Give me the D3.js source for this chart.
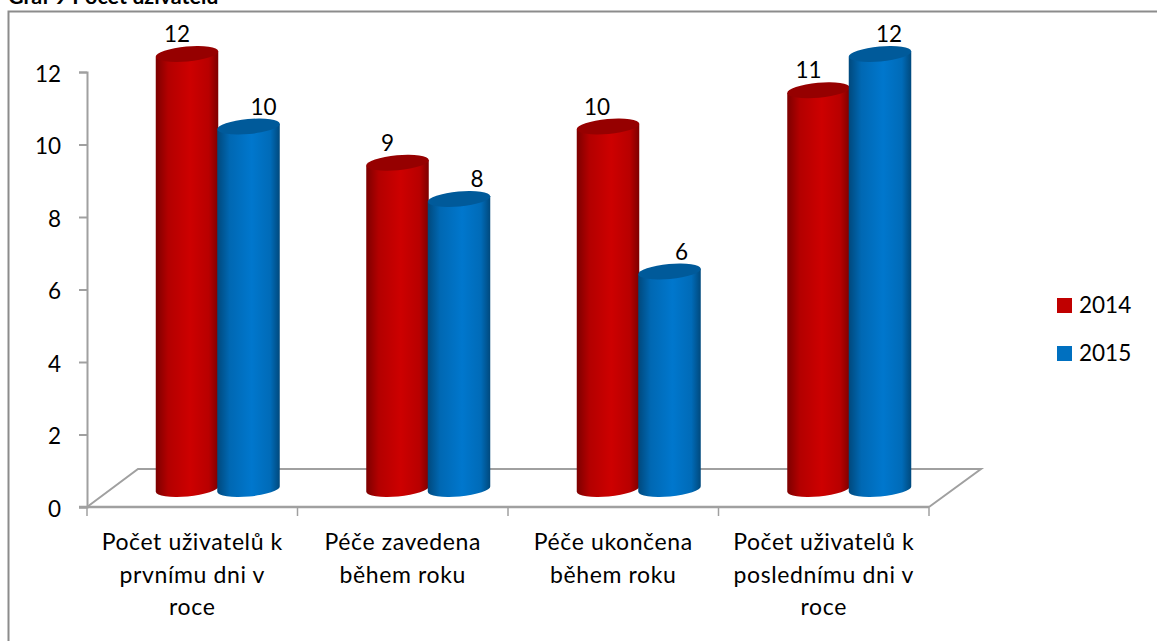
<!DOCTYPE html>
<html>
<head>
<meta charset="utf-8">
<script src="https://cdn.jsdelivr.net/npm/d3@7"></script>
<style>
  html, body { margin: 0; padding: 0; background: #fff; }
  text { font-family: Lato, "Open Sans", sans-serif; fill: #000; }
</style>
</head>
<body>
<div id="chart"></div>
<script>
// data
const categories = [
  ["Počet uživatelů k", "prvnímu dni v", "roce"],
  ["Péče zavedena", "během roku"],
  ["Péče ukončena", "během roku"],
  ["Počet uživatelů k", "poslednímu dni v", "roce"]
];
const series = ["2014", "2015"];
const values2014 = [12, 9, 10, 11];
const values2015 = [10, 8, 6, 12];
const yTicks = [0, 2, 4, 6, 8, 10, 12];

const width = 1157, height = 641;
const grey = "#a0a0a0";
const colors = { "2014": "#c00000", "2015": "#0070c0" };
const tops = { "2014": "#960000", "2015": "#005a9a" };

const svg = d3.select("#chart").append("svg")
  .attr("width", width).attr("height", height)
  .style("display", "block");

// 3d floor offset
const depthX = 51, depthY = 38;
const x = d3.scaleBand().domain(d3.range(categories.length)).range([87, 929]);
const inner = d3.scaleBand().domain(series).range([0, 123]);
const y = d3.scaleLinear().domain([0, 12]).range([507, 72]);

const defs = svg.append("defs");
series.forEach(s => {
  const c = d3.color(colors[s]);
  const g = defs.append("linearGradient").attr("id", "grad" + s);
  g.append("stop").attr("offset", "0%").attr("stop-color", c.darker(1.2));
  g.append("stop").attr("offset", "20%").attr("stop-color", c.darker(0.2));
  g.append("stop").attr("offset", "55%").attr("stop-color", c.brighter(0.18));
  g.append("stop").attr("offset", "85%").attr("stop-color", c.darker(0.12));
  g.append("stop").attr("offset", "100%").attr("stop-color", c.darker(1.2));
});

// title and frame
svg.append("text").attr("x", 8).attr("y", 4)
  .attr("font-size", 21.5).attr("font-weight", "bold")
  .text("Graf 9 Počet uživatelů");
svg.append("rect").attr("x", 8.5).attr("y", 11.5)
  .attr("width", width + 20).attr("height", height + 20)
  .attr("fill", "#fff").attr("stroke", "#8c8c8c").attr("stroke-width", 2);

// floor
const floor = d3.path();
floor.moveTo(x.range()[0], y(0));
floor.lineTo(x.range()[0] + depthX, y(0) - depthY);
floor.lineTo(x.range()[1] + depthX + 1, y(0) - depthY);
floor.lineTo(x.range()[1], y(0));
svg.append("path").attr("d", floor.toString())
  .attr("fill", "none").attr("stroke", grey).attr("stroke-width", 2);

// axes
const yAxis = d3.axisLeft(y).tickValues(yTicks).tickSize(8).tickPadding(18);
const gy = svg.append("g").attr("transform", "translate(87,0)").call(yAxis);
gy.selectAll("path,line").attr("stroke", grey).attr("stroke-width", 2);
gy.selectAll("text").attr("font-size", 22.5).attr("font-family", "Lato")
  .attr("fill", "#000").attr("dy", "0.41em");

const gx = svg.append("g");
gx.append("line")
  .attr("x1", x.range()[0] - 8).attr("x2", x.range()[1])
  .attr("y1", y(0)).attr("y2", y(0))
  .attr("stroke", grey).attr("stroke-width", 2.5);
gx.selectAll(".tick").data(d3.range(categories.length + 1)).join("line")
  .attr("class", "tick")
  .attr("x1", i => x.range()[0] + i * x.step()).attr("x2", i => x.range()[0] + i * x.step())
  .attr("y1", y(0)).attr("y2", y(0) + 9)
  .attr("stroke", grey).attr("stroke-width", 1.5);

gx.selectAll(".cat").data(categories).join("text")
  .attr("class", "cat")
  .attr("text-anchor", "middle")
  .attr("font-size", 23)
  .attr("letter-spacing", 0.6)
  .each(function (lines, i) {
    d3.select(this).selectAll("tspan").data(lines).join("tspan")
      .attr("x", x(i) + x.bandwidth() / 2)
      .attr("y", (l, k) => 550 + k * 32.5)
      .text(l => l);
  });

// cylinders
const barW = inner.bandwidth() + 1;
const ry = 7.5, tilt = -5, midY = 18;
const slope = Math.tan(tilt * Math.PI / 180) * barW / 2;
const rx = barW / 2 / Math.cos(tilt * Math.PI / 180);

function cylinder(cx, val) {
  const top = y(val) - midY;
  const base = y(0) - midY;
  const l = cx - barW / 2, r = cx + barW / 2;
  return `M${l},${top - slope}L${l},${base - slope}` +
    `A${rx},${ry} ${tilt} 0 0 ${r},${base + slope}` +
    `L${r},${top + slope}Z`;
}

const rows = [];
categories.forEach((c, i) => {
  rows.push({ s: "2014", i: i, v: values2014[i] });
  rows.push({ s: "2015", i: i, v: values2015[i] });
});
const cx = d => x(d.i) + (x.bandwidth() - inner.range()[1]) / 2 + depthX / 2 + inner(d.s) + inner.bandwidth() / 2;

const bars = svg.append("g").selectAll("g").data(rows).join("g");
bars.append("path")
  .attr("d", d => cylinder(cx(d), d.v))
  .attr("fill", d => `url(#grad${d.s})`);
bars.append("ellipse")
  .attr("rx", rx)
  .attr("ry", ry)
  .attr("transform", d => `translate(${cx(d)},${y(d.v) - midY}) rotate(${tilt})`)
  .attr("fill", d => tops[d.s]);

// value labels sit off centre like in the original
const labelShift2014 = [-10, -10, -11, -10];
const labelShift2015 = [15, 18, 12, 9];
svg.append("g").selectAll("text").data(rows).join("text")
  .attr("text-anchor", "middle")
  .attr("font-size", 22.5)
  .attr("x", d => cx(d) + (d.s === "2014" ? labelShift2014 : labelShift2015)[d.i])
  .attr("y", d => y(d.v) - midY - 12)
  .text(d => d.v);

// legend
const legend = svg.append("g").selectAll("g").data(series).join("g")
  .attr("transform", (d, i) => `translate(1057,${298 + i * 48})`);
legend.append("rect").attr("width", 15).attr("height", 15)
  .attr("fill", d => colors[d]);
legend.append("text").attr("x", 22).attr("y", 15)
  .attr("font-size", 22.5).text(d => d);
</script>
</body>
</html>
